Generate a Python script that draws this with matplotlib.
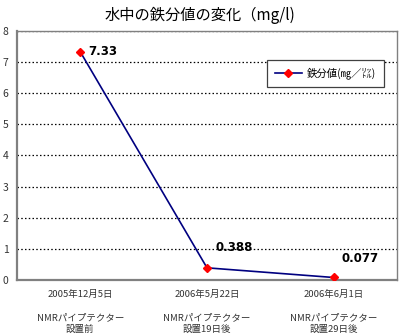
import matplotlib
matplotlib.use("Agg")
import matplotlib.pyplot as plt

plt.rcParams['font.family'] = ['Noto Sans CJK JP', 'DejaVu Sans']

# ================= DATA =================
dates = ["2005年12月5日", "2006年5月22日", "2006年6月1日"]
notes = ["NMRパイプテクター\n設置前", "NMRパイプテクター\n設置19日後", "NMRパイプテクター\n設置29日後"]
values = [7.33, 0.388, 0.077]
value_labels = ["7.33", "0.388", "0.077"]

fig = plt.figure(figsize=(4, 3.34), dpi=100)
ax = fig.add_axes([0.0425, 0.162, 0.95, 0.745])

x = list(range(len(values)))
ax.plot(x, values, color="#000080", lw=1.2, marker="D", ms=4.5,
        mfc="red", mec="red", label="鉄分値(㎎／㍑)", zorder=3)

# value labels
offsets = [(6, 0, "center"), (6, 10, "bottom"), (6, 9, "bottom")]
for xi, v, t, (dx, dy, va) in zip(x, values, value_labels, offsets):
    ax.annotate(t, (xi, v), xytext=(dx, dy), textcoords="offset points",
                fontsize=8.5, fontweight="bold", family="DejaVu Sans",
                ha="left", va=va)

ax.set_xlim(-0.5, 2.5)
ax.set_ylim(0, 8)
ax.set_yticks(range(0, 9))
ax.yaxis.grid(True, linestyle=(0, (1.2, 1.8)), color="black", lw=0.9)
ax.set_axisbelow(True)

ax.set_xticks(x)
ax.set_xticklabels([d + "\n\n" + n for d, n in zip(dates, notes)], linespacing=1.4)
ax.tick_params(axis="both", length=0, labelsize=7.5, pad=4, labelcolor="#333333")
ax.tick_params(axis="x", labelsize=6.8, pad=7)
ax.tick_params(axis="y", pad=6)

for s in ax.spines.values():
    s.set_color("#808080")
    s.set_linewidth(1.0)
ax.spines["left"].set_linewidth(1.6)
ax.spines["bottom"].set_linewidth(1.6)

fig.text(0.5, 0.955, "水中の鉄分値の変化（mg/l)", ha="center", va="center", fontsize=11)

leg = ax.legend(loc="upper right", bbox_to_anchor=(0.966, 0.885), fontsize=7.5,
                fancybox=False, edgecolor="#404040", framealpha=1,
                handlelength=2.6, borderpad=0.75, borderaxespad=0, handletextpad=0.5)
leg.get_frame().set_linewidth(0.9)

fig.savefig("out.png", dpi=100)
